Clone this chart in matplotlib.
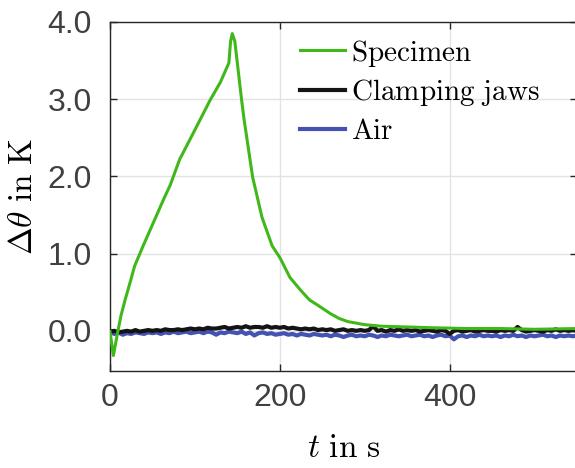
import matplotlib
matplotlib.use("Agg")
import matplotlib.pyplot as plt
import numpy as np

# Specimen temperature rise (irregular sampling)
spec_t = [0, 4, 9, 13, 18, 24, 29, 39, 51, 63, 71, 82, 98, 118, 130, 140,
          142, 144, 147, 155, 158, 168, 179, 191, 200, 212, 225, 235, 245,
          260, 270, 280, 300, 320, 350, 380, 420, 460, 500, 550]
spec_dT = [-0.01, -0.32, -0.02, 0.20, 0.41, 0.64, 0.84, 1.10, 1.40, 1.70,
           1.89, 2.22, 2.56, 2.99, 3.22, 3.47, 3.75, 3.85, 3.75, 2.99, 2.73,
           1.99, 1.47, 1.10, 0.95, 0.69, 0.52, 0.40, 0.33, 0.22, 0.16, 0.12,
           0.08, 0.06, 0.05, 0.04, 0.03, 0.03, 0.02, 0.03]

# Clamping jaws and air, sampled every 5 s from 0 to 550 s
noise_t = list(range(0, 551, 5))
jaws_dT = [
    -0.01, 0.00, -0.02, -0.01, 0.00, -0.01, 0.01, -0.01, 0.00, 0.01,
    0.00, 0.01, 0.00, 0.02, 0.01, 0.01, 0.02, 0.01, 0.02, 0.03,
    0.02, 0.03, 0.02, 0.04, 0.03, 0.03, 0.04, 0.05, 0.03, 0.04,
    0.05, 0.04, 0.06, 0.04, 0.05, 0.05, 0.04, 0.06, 0.04, 0.05,
    0.04, 0.05, 0.03, 0.04, 0.03, 0.02, 0.03, 0.02, 0.03, 0.01,
    0.02, 0.01, 0.02, 0.00, 0.01, 0.02, 0.00, 0.01, 0.00, 0.01,
    0.00, 0.01, 0.06, 0.00, 0.01, -0.01, 0.01, 0.00, 0.02, 0.00,
    0.01, 0.00, 0.01, -0.01, 0.00, 0.01, 0.00, -0.01, 0.01, 0.00,
    -0.04, 0.00, 0.01, -0.01, 0.00, 0.01, -0.01, 0.00, 0.01, 0.00,
    0.00, -0.01, 0.01, 0.00, 0.01, 0.00, 0.05, 0.01, -0.01, 0.00,
    0.01, 0.00, -0.01, 0.01, 0.00, 0.02, 0.00, 0.01, 0.00, 0.01, 0.00,
]
air_dT = [
    -0.01, -0.04, -0.02, -0.05, -0.03, -0.04, -0.02, -0.03, -0.04, -0.02,
    -0.03, -0.02, -0.04, -0.02, -0.03, -0.01, -0.03, -0.02, -0.01, -0.03,
    -0.02, -0.01, -0.03, -0.01, -0.02, -0.05, -0.02, -0.03, -0.01, -0.02,
    -0.03, -0.01, -0.04, -0.02, -0.06, -0.03, -0.02, -0.04, -0.03, -0.05,
    -0.04, -0.03, -0.05, -0.04, -0.06, -0.04, -0.05, -0.06, -0.04, -0.05,
    -0.06, -0.05, -0.07, -0.05, -0.06, -0.08, -0.06, -0.05, -0.07, -0.06,
    -0.07, -0.05, -0.06, -0.08, -0.06, -0.07, -0.05, -0.06, -0.07, -0.06,
    -0.05, -0.07, -0.06, -0.05, -0.07, -0.06, -0.08, -0.06, -0.05, -0.07,
    -0.06, -0.11, -0.07, -0.06, -0.08, -0.06, -0.07, -0.05, -0.07, -0.06,
    -0.07, -0.06, -0.08, -0.06, -0.07, -0.05, -0.07, -0.06, -0.08, -0.06,
    -0.07, -0.06, -0.05, -0.07, -0.06, -0.08, -0.06, -0.07, -0.06, -0.07, -0.06,
]

x_ticks = [0, 200, 400]
y_ticks = [0.0, 1.0, 2.0, 3.0, 4.0]

plt.rcParams["mathtext.fontset"] = "cm"
plt.rcParams["font.family"] = ["Liberation Sans", "DejaVu Sans"]

fig = plt.figure(figsize=(5.75, 4.68), dpi=100)
ax = fig.add_axes([110 / 575, 1 - 371 / 468, 467 / 575, 349 / 468])

h_air, = ax.plot(noise_t, air_dT, color="#4452b4", lw=3.0, zorder=2)
h_jaws, = ax.plot(noise_t, jaws_dT, color="#141414", lw=3.0, zorder=3)
h_spec, = ax.plot(spec_t, spec_dT, color="#40b81a", lw=2.2, zorder=4)

ax.set_xlim(0, 550)
ax.set_ylim(-0.52, 4.0)
ax.set_xticks(x_ticks)
ax.set_yticks(y_ticks)
ax.set_yticklabels([f"{v:.1f}" for v in y_ticks])
ax.tick_params(direction="in", length=5, width=1, labelsize=23,
               labelcolor="#404040", color="#262626", top=True, right=True)
ax.tick_params(axis="y", pad=13)
ax.tick_params(axis="x", pad=9)
ax.grid(color="#e3e3e3", lw=1)
ax.set_axisbelow(True)
for s in ax.spines.values():
    s.set_color("#262626")
    s.set_linewidth(1)

ax.set_xlabel(r"$t\ \mathrm{in\ s}$", fontsize=24, labelpad=14)
ax.set_ylabel(r"$\Delta\theta\ \mathrm{in\ K}$", fontsize=24, labelpad=6)

ax.legend([h_spec, h_jaws, h_air],
          [r"$\mathrm{Specimen}$", r"$\mathrm{Clamping\ jaws}$", r"$\mathrm{Air}$"],
          loc="upper left", bbox_to_anchor=(0.407, 0.955), frameon=False,
          fontsize=21, handlelength=1.55, handletextpad=0.2, labelspacing=0.3,
          borderaxespad=0.0, borderpad=0.0)

fig.savefig("out.png", dpi=100)
